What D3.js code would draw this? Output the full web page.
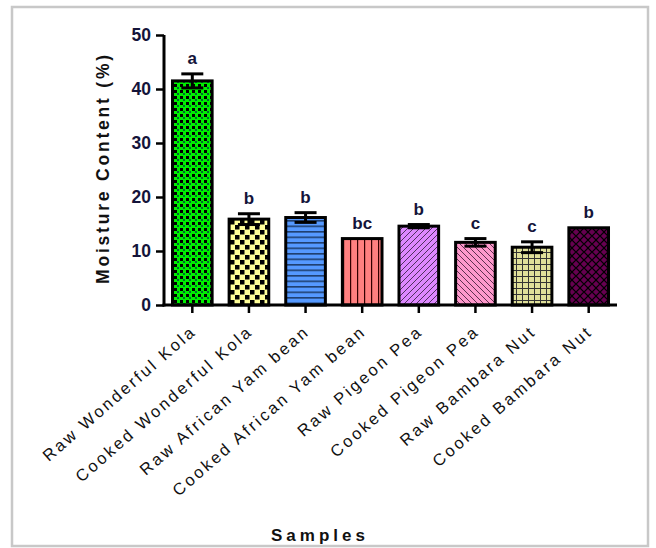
<!DOCTYPE html>
<html><head><meta charset="utf-8">
<script src="https://cdn.jsdelivr.net/npm/d3@7/dist/d3.min.js"></script>
<style>body{margin:0;background:#fff;}svg{display:block;}</style>
</head><body>
<script>
const categories = ["Raw Wonderful Kola","Cooked Wonderful Kola","Raw African Yam bean","Cooked African  Yam bean","Raw Pigeon Pea","Cooked Pigeon Pea","Raw Bambara Nut","Cooked Bambara Nut"];
const values = [41.5, 15.9, 16.2, 12.3, 14.6, 11.6, 10.7, 14.3];
const errors = [1.3, 1.0, 0.9, 0, 0.3, 0.7, 1.0, 0];
const letters = ["a","b","b","bc","b","c","c","b"];
const yTicks = [0,10,20,30,40,50];
const fills = ["#00ee00","#ffff99","#5599ff","#ff8080","#dd88ff","#ff99cc","#e0e09a","#660050"];

const W=656,H=548;
const svg=d3.select("body").append("svg").attr("width",W).attr("height",H);
const defs=svg.append("defs");
function pat(id,w,h,bg){const p=defs.append("pattern").attr("id",id).attr("patternUnits","userSpaceOnUse").attr("width",w).attr("height",h);p.append("rect").attr("width",w).attr("height",h).attr("fill",bg);return p;}
let p;
p=pat("p0",6,6,fills[0]);p.append("rect").attr("x",0).attr("y",0).attr("width",3).attr("height",3).attr("fill","#000");p.append("rect").attr("x",3).attr("y",3).attr("width",2).attr("height",2).attr("fill","#063");
p=pat("p1",10,10,fills[1]);p.append("rect").attr("x",0).attr("y",0).attr("width",4.5).attr("height",4.5).attr("fill","#000");p.append("rect").attr("x",5).attr("y",5).attr("width",4.5).attr("height",4.5).attr("fill","#000");
p=pat("p2",10,5.5,fills[2]);p.append("rect").attr("x",0).attr("y",0).attr("width",10).attr("height",1.6).attr("fill","#1f3f6f");
p=pat("p3",7,10,fills[3]);p.append("rect").attr("x",0).attr("y",0).attr("width",1.2).attr("height",10).attr("fill","#300");
p=pat("p4",6,6,fills[4]);p.append("path").attr("d","M0,6L6,0M-1,1L1,-1M5,7L7,5").attr("stroke","#503060").attr("stroke-width",1);
p=pat("p5",6,6,fills[5]);p.append("path").attr("d","M0,0L6,6M5,-1L7,1M-1,5L1,7").attr("stroke","#603050").attr("stroke-width",1);
p=pat("p6",6,6,fills[6]);p.append("path").attr("d","M0,0.5H6M0.5,0V6").attr("stroke","#333").attr("stroke-width",1);
p=pat("p7",8,8,fills[7]);p.append("path").attr("d","M0,4L4,0M4,8L8,4M4,0L8,4M0,4L4,8").attr("stroke","#000").attr("stroke-width",1.2).attr("fill","none");

// frame
svg.append("rect").attr("x",12).attr("y",7).attr("width",636).attr("height",539).attr("fill","none").attr("stroke","#c8c8c8").attr("stroke-width",2.5);

const x0=164,x1=617,yb=305,yt=35;
const x=d3.scaleBand().domain(categories).range([x0,x1]).paddingInner(0.3).paddingOuter(0.15);
const y=d3.scaleLinear().domain([0,50]).range([yb,yt]);

const font="Arial, 'Liberation Sans', sans-serif";

// bars
svg.append("g").selectAll("rect").data(categories).join("rect")
 .attr("x",d=>x(d)).attr("y",(d,i)=>y(values[i])).attr("width",x.bandwidth()).attr("height",(d,i)=>y(0)-y(values[i]))
 .attr("fill",(d,i)=>`url(#p${i})`).attr("stroke","#000").attr("stroke-width",3);

// error bars
const eg=svg.append("g");
categories.forEach((c,i)=>{
 if(!errors[i])return;
 const cx=x(c)+x.bandwidth()/2;
 const t=y(values[i]+errors[i]), b=y(values[i]-errors[i]);
 eg.append("line").attr("x1",cx).attr("x2",cx).attr("y1",t).attr("y2",b).attr("stroke","#000").attr("stroke-width",3);
 [t,b].forEach(yy=>eg.append("line").attr("x1",cx-11).attr("x2",cx+11).attr("y1",yy).attr("y2",yy).attr("stroke","#000").attr("stroke-width",3));
});

// letters
svg.append("g").selectAll("text").data(categories).join("text")
 .attr("x",d=>x(d)+x.bandwidth()/2).attr("y",(d,i)=>y(values[i]+errors[i])-10)
 .attr("text-anchor","middle").attr("font-family",font).attr("font-weight","bold").attr("font-size",17).attr("fill","#14143a")
 .text((d,i)=>letters[i]);

// y axis
const ya=svg.append("g").attr("transform",`translate(${x0},0)`).call(d3.axisLeft(y).tickValues(yTicks).tickSize(8).tickPadding(5));
ya.select(".domain").attr("stroke-width",3).attr("d",`M0,${yb+1.5}V${yt}`);
ya.selectAll(".tick line").attr("stroke-width",2.5);
ya.selectAll("text").attr("font-family",font).attr("font-weight","bold").attr("font-size",17.5).attr("fill","#14143a");

// x axis
const xa=svg.append("g").attr("transform",`translate(0,${yb})`).call(d3.axisBottom(x).tickSize(8).tickFormat(""));
xa.select(".domain").attr("stroke-width",3).attr("d",`M${x0-1.5},0H${x1}`);
xa.selectAll(".tick line").attr("stroke-width",2.5);

// x labels
svg.append("g").selectAll("text").data(categories).join("text")
 .attr("transform",d=>`translate(${x(d)+x.bandwidth()/2+5},${yb+28}) rotate(-41)`)
 .attr("text-anchor","end").attr("font-family",font).attr("font-size",16.5).attr("letter-spacing",2.6).attr("fill","#111")
 .text(d=>d);

// axis titles
svg.append("text").attr("transform",`translate(109,168) rotate(-90)`).attr("text-anchor","middle")
 .attr("font-family",font).attr("font-weight","bold").attr("font-size",17.5).attr("letter-spacing",2.8).attr("fill","#111")
 .text("Moisture Content (%)");
svg.append("text").attr("x",320).attr("y",541).attr("text-anchor","middle")
 .attr("font-family",font).attr("font-weight","bold").attr("font-size",17).attr("letter-spacing",4).attr("fill","#111")
 .text("Samples");
</script>
</body></html>
